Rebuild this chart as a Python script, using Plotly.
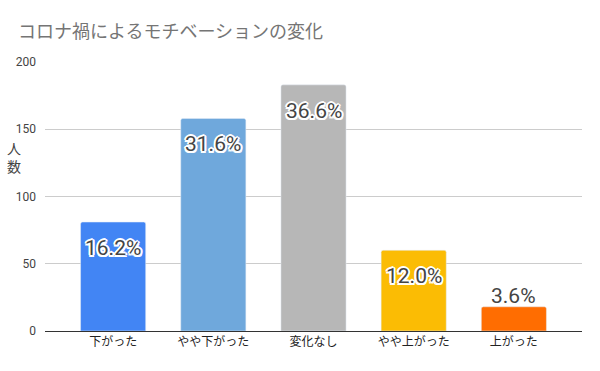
import plotly.graph_objects as go

categories = ["下がった", "やや下がった", "変化なし", "やや上がった", "上がった"]
counts = [81, 158, 183, 60, 18]
labels = ["16.2%", "31.6%", "36.6%", "12.0%", "3.6%"]
colors = ["#4285F4", "#6FA8DC", "#B7B7B7", "#FBBC04", "#FF6D01"]
y_ticks = [0, 50, 100, 150, 200]

FONT = "Noto Sans CJK JP, Roboto, Arial, sans-serif"

fig = go.Figure()
fig.add_trace(go.Bar(
    x=categories, y=counts, marker=dict(color=colors, cornerradius=2),
    width=0.65, hoverinfo="skip",
))

shadow = ("1.5px 1.5px 0 white, -1.5px -1.5px 0 white, 1.5px -1.5px 0 white, -1.5px 1.5px 0 white, "
          "0 2px 0 white, 0 -2px 0 white, 2px 0 0 white, -2px 0 0 white")
for c, v, t in zip(categories, counts, labels):
    inside = v > 40
    fig.add_annotation(
        x=c, y=v, text=t, showarrow=False,
        yshift=-26 if inside else 11, yanchor="middle",
        font=dict(family="Roboto, Arial, sans-serif", size=21, color="#444444",
                  shadow=shadow if inside else "none"),
    )

pw = 600 - 45 - 18
ph = 371 - 62 - 40
fig.add_annotation(
    x=(14 - 45) / pw, y=(331 - 157) / ph, xref="paper", yref="paper",
    text="人<br>数", showarrow=False, xanchor="center", yanchor="middle",
    font=dict(family=FONT, size=14, color="#444444"),
)

fig.update_layout(
    width=600, height=371,
    margin=dict(l=45, r=18, t=62, b=40),
    paper_bgcolor="white", plot_bgcolor="white",
    title=dict(text="コロナ禍によるモチベーションの変化", x=18/600, xanchor="left",
               y=1-32/371, yanchor="middle",
               font=dict(family=FONT, size=18, color="#757575")),
    showlegend=False,
    xaxis=dict(range=[-0.68, 4.68], showgrid=False, showline=True, linecolor="#333333",
               linewidth=1, ticks="", tickfont=dict(family=FONT, size=12, color="#222222")),
    yaxis=dict(range=[0, 200], tickvals=y_ticks, showgrid=True, gridcolor="#CCCCCC",
               zeroline=False, ticks="", ticklabelstandoff=8,
               tickfont=dict(family="Roboto, Arial, sans-serif", size=12, color="#444444")),
)

fig.write_html("out.html", config={"displayModeBar": False, "staticPlot": True})
with open("out.html", encoding="utf-8") as f:
    html = f.read()
html = html.replace("<head>", "<head><style>html,body{margin:0;padding:0;overflow:hidden;}</style>", 1)
with open("out.html", "w", encoding="utf-8") as f:
    f.write(html)
